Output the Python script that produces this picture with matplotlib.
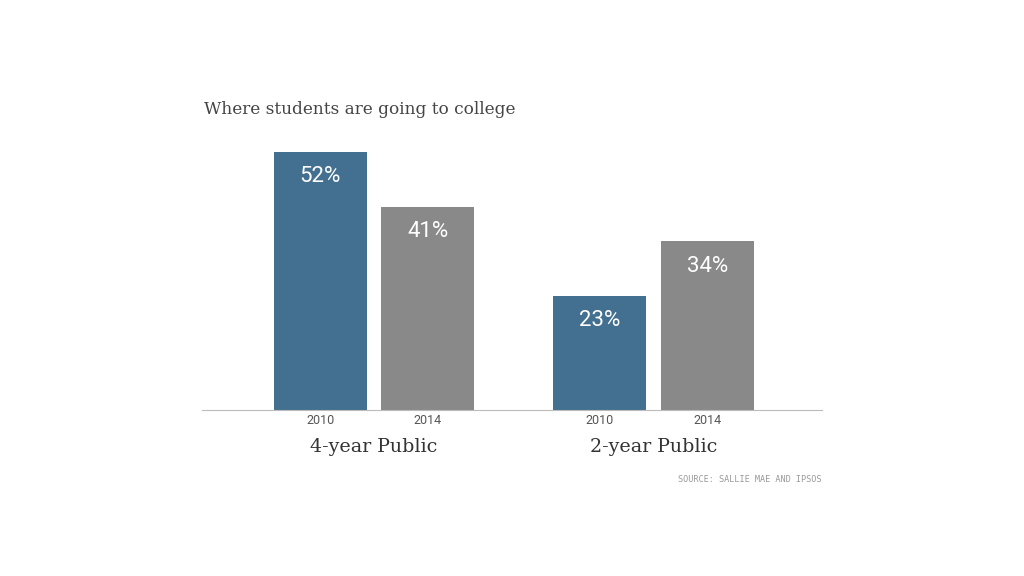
import matplotlib.pyplot as plt
from matplotlib import font_manager

years = ['2010', '2014', '2010', '2014']
groups = ['4-year Public', '2-year Public']
values = [52, 41, 23, 34]
colors = ['#436f91', '#898989', '#436f91', '#898989']
positions = [0, 1, 2.6, 3.6]

names = {f.name for f in font_manager.fontManager.ttflist}
narrow = 'Liberation Sans Narrow' if 'Liberation Sans Narrow' in names else 'Roboto'

fig = plt.figure(figsize=(10.24, 5.76), dpi=100)
ax = fig.add_axes([202 / 1024, 1 - 410 / 576, 620 / 1024, 270 / 576])

ax.bar(positions, values, width=0.865, color=colors)
for x, v in zip(positions, values):
    ax.text(x, v - 5.0, f'{v}%', ha='center', va='center', color='white',
            fontsize=16, family=narrow)

ax.set_xlim(-1.1, 4.665)
ax.set_ylim(0, 54.4)
for s in ['top', 'right', 'left']:
    ax.spines[s].set_visible(False)
ax.spines['bottom'].set_color('#bbbbbb')
ax.set_yticks([])
ax.set_xticks(positions)
ax.set_xticklabels(years, family=narrow, fontsize=9, color='#555555')
ax.tick_params(axis='x', length=0, pad=3)

for i, g in enumerate(groups):
    cx = (positions[2 * i] + positions[2 * i + 1]) / 2
    ax.text(cx, -7.5, g, ha='center', va='center', family='DejaVu Serif',
            fontsize=13.7, color='#333333')

fig.text(204 / 1024, 1 - 110 / 576, 'Where students are going to college',
         family='DejaVu Serif', fontsize=12.2, color='#444444', va='center')
fig.text(822 / 1024, 1 - 479 / 576, 'SOURCE: SALLIE MAE AND IPSOS',
         family='DejaVu Sans Mono', fontsize=6.1, color='#999999',
         ha='right', va='center')

fig.savefig('out.png', dpi=100)
